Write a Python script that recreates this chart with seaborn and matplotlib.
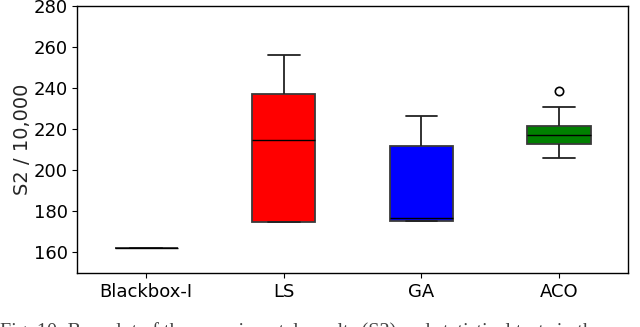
import numpy as np
import pandas as pd
import matplotlib
matplotlib.use("Agg")
import matplotlib.pyplot as plt
import seaborn as sns

methods = ["Blackbox-I", "LS", "GA", "ACO"]
blackbox_vals = [162.0, 162.0, 162.0, 162.0, 162.0]
ls_vals = [175.0, 175.0, 214.6, 237.3, 256.0]
ga_vals = [175.3, 175.3, 176.6, 212.0, 226.5]
aco_vals = [206.2, 210.0, 213.0, 215.0, 217.0, 219.0, 221.7, 230.8, 238.4]
box_colors = ["white", "red", "blue", "green"]
y_ticks = [160, 180, 200, 220, 240, 260, 280]
caption = "Fig. 10: Box plot of the experimental results (S2) and statistical tests in the"

series = [blackbox_vals, ls_vals, ga_vals, aco_vals]
df = pd.DataFrame({
    "method": [m for m, v in zip(methods, series) for _ in v],
    "value": [x for v in series for x in v],
})

sns.set_style("ticks")
plt.rcParams["font.family"] = ["DejaVu Sans"]

fig = plt.figure(figsize=(6.4, 3.27), dpi=100)
ax = fig.add_axes([0.121, 0.165, 0.860, 0.817])

sns.boxplot(
    data=df, x="method", y="value", order=methods, hue="method",
    palette=dict(zip(methods, box_colors)), legend=False,
    width=0.46, linewidth=1.3, linecolor="#3a3a3a", saturation=1,
    whis=1.5, ax=ax,
    medianprops=dict(color="black", linewidth=1.0),
    whiskerprops=dict(color="#222222"),
    capprops=dict(color="#222222"),
    flierprops=dict(marker="o", markerfacecolor="none",
                    markeredgecolor="black", markersize=6, markeredgewidth=1.2),
)

ax.set_ylim(150, 280)
ax.set_xlim(-0.5, 3.5)
ax.set_yticks(y_ticks)
ax.set_xlabel("")
ax.set_ylabel("S2 / 10,000", fontsize=14, labelpad=1)
ax.tick_params(axis="both", labelsize=13, colors="black", length=3.5, width=0.8)
for s in ax.spines.values():
    s.set_visible(True)
    s.set_color("black")
    s.set_linewidth(1.0)

fig.text(0.0, -0.031, caption, fontsize=14.5, family="Liberation Serif",
         color="#444444", ha="left", va="baseline")

fig.savefig("out.png", dpi=100)
